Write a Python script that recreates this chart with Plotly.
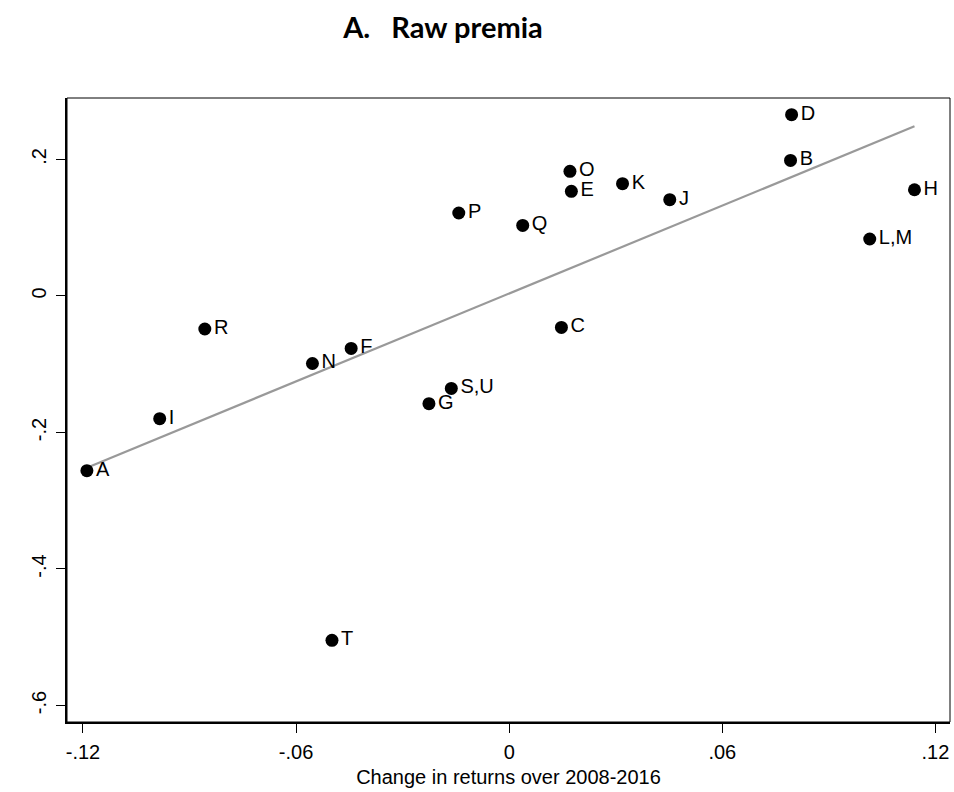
import plotly.graph_objects as go
import numpy as np

# Data
labels = ["D", "B", "O", "K", "E", "J", "H", "P", "Q", "L,M",
          "R", "C", "F", "N", "S,U", "G", "I", "A", "T"]
change_returns = [0.0795, 0.0792, 0.0171, 0.0319, 0.0175, 0.0452, 0.1141, -0.0142, 0.0038, 0.1015,
                  -0.0857, 0.0147, -0.0445, -0.0554, -0.0163, -0.0226, -0.0984, -0.1189, -0.0499]
raw_premia = [0.2656, 0.1987, 0.1826, 0.1645, 0.1533, 0.1411, 0.1557, 0.1216, 0.1034, 0.0835,
              -0.0484, -0.0460, -0.0768, -0.0989, -0.1354, -0.1578, -0.1798, -0.2560, -0.5046]

x_tickvals = [-0.12, -0.06, 0, 0.06, 0.12]
x_ticktext = ["-.12", "-.06", "0", ".06", ".12"]
y_tickvals = [-0.6, -0.4, -0.2, 0, 0.2]
y_ticktext = ["-.6", "-.4", "-.2", "0", ".2"]

# Linear fit through the points
slope, intercept = np.polyfit(change_returns, raw_premia, 1)
fit_x = [min(change_returns), max(change_returns)]
fit_y = [slope * v + intercept for v in fit_x]

FONT = "Liberation Sans, Arial, sans-serif"

fig = go.Figure()
fig.add_trace(go.Scatter(
    x=fit_x, y=fit_y, mode="lines",
    line=dict(color="#999999", width=2.2),
    hoverinfo="skip", showlegend=False,
))
fig.add_trace(go.Scatter(
    x=change_returns, y=raw_premia, mode="markers+text",
    text=labels, textposition="middle right",
    textfont=dict(family=FONT, size=20, color="black"),
    marker=dict(color="black", size=13),
    showlegend=False,
))

fig.add_shape(type="rect", xref="paper", yref="paper", x0=0, y0=0, x1=1, y1=1,
              line=dict(color="black", width=1), layer="above")

fig.update_layout(
    width=954, height=792,
    paper_bgcolor="white", plot_bgcolor="white",
    margin=dict(l=67, r=4, t=98, b=70, autoexpand=False),
    title=dict(text="A.\u00a0\u00a0\u00a0Raw premia", x=443 / 954, xanchor="center",
               y=1 - 28 / 792, yanchor="middle", yref="container",
               font=dict(family="Lato", size=29, color="black", weight="bold")),
    font=dict(family=FONT, color="black"),
)
fig.update_xaxes(
    range=[-0.1245, 0.1241], tickvals=x_tickvals, ticktext=x_ticktext, automargin=False,
    showgrid=False, zeroline=False, showline=True, linecolor="black", linewidth=2,
    ticks="outside", ticklen=9, tickwidth=1, tickcolor="black",
    tickfont=dict(size=20, family=FONT), ticklabelstandoff=2,
    title=dict(text="Change in returns over 2008-2016",
               font=dict(size=20, family=FONT), standoff=8),
)
fig.update_yaxes(
    range=[-0.6242, 0.2901], tickvals=y_tickvals, ticktext=y_ticktext, tickangle=-90,
    automargin=False,
    showgrid=False, zeroline=False, showline=True, linecolor="black", linewidth=2,
    ticks="outside", ticklen=9, tickwidth=1, tickcolor="black",
    tickfont=dict(size=20, family=FONT), ticklabelstandoff=2,
)

fig.write_html(
    "out.html",
    config={"displayModeBar": False},
    post_script="document.body.style.margin='0';document.body.style.padding='0';"
                "document.documentElement.style.overflow='hidden';",
)
